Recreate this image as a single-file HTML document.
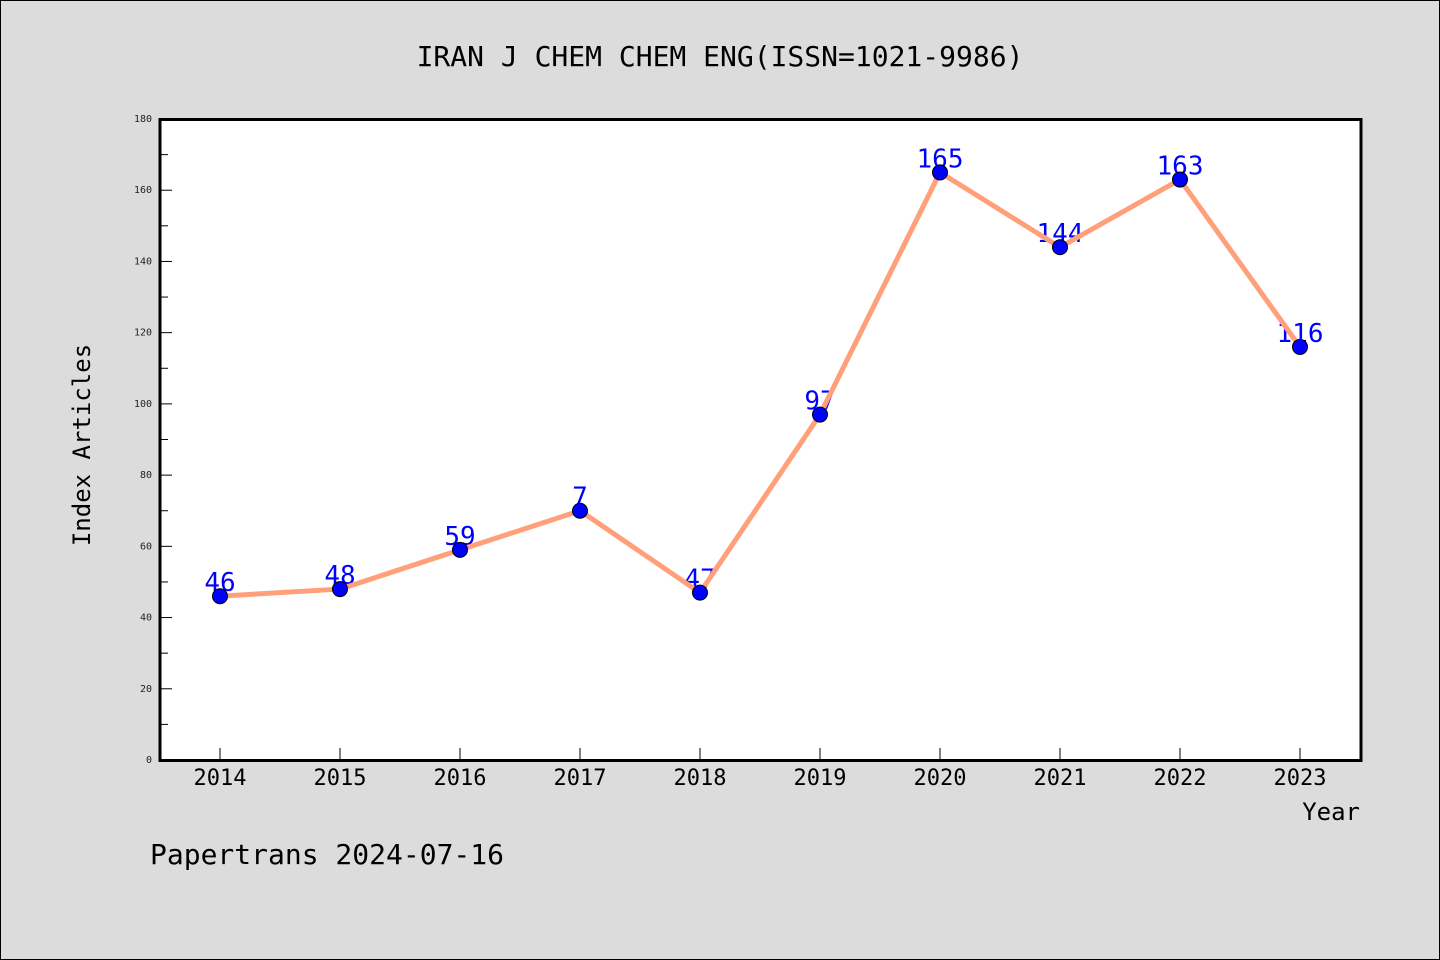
<!DOCTYPE html>
<html><head><meta charset="utf-8"><style>
body{margin:0;background:#dcdcdc}
svg{display:block}
text{font-family:"WenQuanYi Zen Hei","DejaVu Sans Mono",monospace}
</style></head><body>
<svg id="c" width="1440" height="960">
<rect x="0.5" y="0.5" width="1439" height="959" fill="#dcdcdc" stroke="#000"/>
<text x="720" y="66" font-size="28" text-anchor="middle">IRAN J CHEM CHEM ENG(ISSN=1021-9986)</text>
<rect x="160" y="119.5" width="1201" height="641" fill="#fff" stroke="#000" stroke-width="3"/>
<text x="90" y="445" font-size="24" text-anchor="middle" transform="rotate(-90 90 445)">Index Articles</text>
<text x="1360" y="820" font-size="24" text-anchor="end">Year</text>
<text x="150" y="864" font-size="28">Papertrans 2024-07-16</text>
<g id="g"></g>
</svg>
<script>
const years=["2014","2015","2016","2017","2018","2019","2020","2021","2022","2023"];
const values=[46,48,59,70,47,97,165,144,163,116];
const labels=["46","48","59","7","47","97","165","144","163","116"];
const yTicks=[0,20,40,60,80,100,120,140,160,180];
const NS="http://www.w3.org/2000/svg";
const g=document.getElementById('g');
const X=i=>220+i*120;
const Y=v=>760-v*(641/180);
function mk(t,a){const e=document.createElementNS(NS,t);for(const k in a)e.setAttribute(k,a[k]);g.appendChild(e);return e;}
for(let v=0;v<=180;v+=10){
 const major=v%20===0;
 const t=mk('line',{x1:160,x2:160+(major?12:8),y1:Y(v),y2:Y(v),stroke:'#000','stroke-width':1});
 
 
}
yTicks.forEach(v=>{
 const t=mk('text',{x:152,y:Y(v)+3,'font-size':10,'text-anchor':'end',fill:'#222'});
 t.textContent=v;
 
 
});
years.forEach((y,i)=>{
 const tk=mk('line',{x1:X(i),x2:X(i),y1:760,y2:748,stroke:'#000','stroke-width':1});
 
 
 const t=mk('text',{x:X(i),y:785,'font-size':22,'text-anchor':'middle'});
 t.textContent=y;
 
 
});
values.forEach((v,i)=>{
 const t=mk('text',{x:X(i),y:Y(v)-5,'font-size':26,'text-anchor':'middle',fill:'#0000ff'});
 t.textContent=labels[i];
 
 
});
const pl=mk('polyline',{points:values.map((v,i)=>X(i)+','+Y(v)).join(' '),fill:'none',stroke:'#ffa07a','stroke-width':5,'stroke-linejoin':'round'});


values.forEach((v,i)=>{
 const c=mk('circle',{cx:X(i),cy:Y(v),r:7.5,fill:'#0000ff',stroke:'#000','stroke-width':1});
 
 
});
</script>
</body></html>
